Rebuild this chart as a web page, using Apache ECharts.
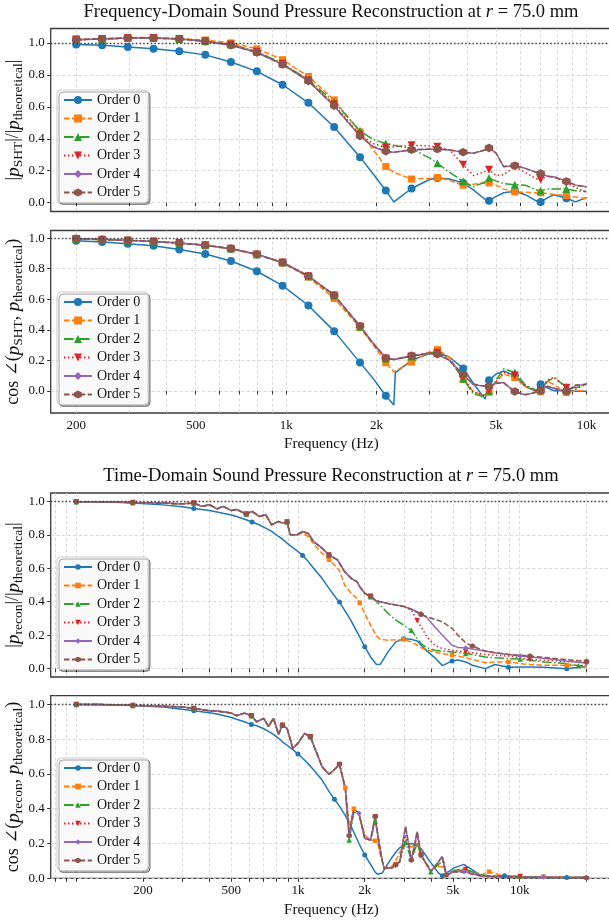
<!DOCTYPE html>
<html><head><meta charset="utf-8">
<script src="https://cdn.jsdelivr.net/npm/echarts@6/dist/echarts.min.js"></script>
<style>html,body{margin:0;padding:0;background:#fff}#c{width:609px;height:920px}</style>
</head><body><div id="c"></div>
<script>
// ---------------- DATA ----------------
const orderNames = ['Order 0','Order 1','Order 2','Order 3','Order 4','Order 5'];
const fdTicks = [200,300,400,500,600,700,800,900,1000,2000,3000,4000,5000,6000,7000,8000,9000,10000];
const tdTicks = [80,90,100,200,300,400,500,600,700,800,900,1000,2000,3000,4000,5000,6000,7000,8000,9000,10000,20000];
const freqLabels = [200,500,1000,2000,5000,10000];
const yTicks = [0,0.2,0.4,0.6,0.8,1.0];

// Frequency-domain panels
const fdFreq = [200,244,297,362,441,538,655,799,973,1186,1445,1762,1950,2147,2283,2310,2616,3000,3188,3500,3886,4200,4600,4736,5000,5300,5772,6250,6800,7034,7400,7800,8572,9200,10000];
const fdMarkers = [200,244,297,362,441,538,655,799,973,1186,1445,1762,2147,2616,3188,3886,4736,5772,7034,8572];

const fdMagO0 = [0.99,0.985,0.975,0.963,0.948,0.925,0.88,0.822,0.738,0.625,0.474,0.285,0.18,0.076,0.005,0.012,0.089,0.145,0.155,0.148,0.124,0.08,0.02,0.012,0.04,0.062,0.072,0.05,0.012,0.004,0.03,0.05,0.028,0.005,0.033];
const fdMagO1 = [1.025,1.025,1.033,1.033,1.027,1.018,1.0,0.963,0.895,0.79,0.643,0.443,0.33,0.227,0.19,0.185,0.148,0.152,0.158,0.14,0.109,0.115,0.123,0.124,0.11,0.085,0.068,0.065,0.063,0.062,0.058,0.052,0.045,0.035,0.025];
const fdMagO2 = [1.02,1.025,1.03,1.03,1.025,1.01,0.99,0.945,0.87,0.77,0.63,0.45,0.395,0.371,0.36,0.358,0.338,0.28,0.247,0.19,0.134,0.1,0.13,0.155,0.135,0.12,0.113,0.11,0.08,0.075,0.085,0.085,0.085,0.075,0.07];
const fdMagO3 = [1.02,1.025,1.03,1.03,1.025,1.01,0.99,0.945,0.87,0.765,0.615,0.425,0.37,0.345,0.35,0.352,0.36,0.355,0.35,0.33,0.237,0.17,0.195,0.206,0.17,0.175,0.225,0.19,0.15,0.144,0.165,0.16,0.125,0.095,0.065];
const fdMagO4 = [1.02,1.025,1.03,1.03,1.025,1.01,0.985,0.94,0.865,0.76,0.605,0.415,0.35,0.32,0.315,0.316,0.33,0.335,0.335,0.33,0.315,0.31,0.33,0.345,0.31,0.225,0.233,0.215,0.19,0.185,0.165,0.162,0.135,0.11,0.1];
const fdMagO5 = [1.02,1.025,1.03,1.03,1.025,1.01,0.985,0.94,0.865,0.762,0.607,0.418,0.35,0.322,0.316,0.317,0.332,0.336,0.336,0.33,0.316,0.31,0.33,0.343,0.31,0.226,0.232,0.215,0.19,0.183,0.165,0.16,0.133,0.11,0.098];

const fdCosO0 = [0.983,0.974,0.963,0.95,0.926,0.896,0.85,0.783,0.689,0.559,0.391,0.185,0.08,-0.032,-0.093,0.119,0.2,0.245,0.25,0.22,0.147,0.05,-0.054,0.069,0.11,0.13,0.1,0.03,-0.005,0.043,0.02,0.0,0.0,-0.002,-0.003];
const fdCosO1 = [0.995,0.99,0.985,0.978,0.968,0.953,0.93,0.893,0.838,0.745,0.605,0.415,0.3,0.184,0.125,0.115,0.188,0.255,0.27,0.22,0.076,-0.005,-0.03,-0.01,0.06,0.11,0.087,0.03,0.0,-0.006,0.065,0.04,-0.01,0.0,0.0];
const fdCosO2 = [0.995,0.99,0.985,0.978,0.968,0.953,0.93,0.893,0.84,0.75,0.625,0.42,0.31,0.212,0.205,0.205,0.225,0.25,0.253,0.2,0.08,-0.02,-0.04,0.0,0.07,0.145,0.12,0.04,0.005,0.01,0.06,0.087,0.025,0.02,0.04];
const fdCosO3 = [0.995,0.99,0.985,0.978,0.968,0.953,0.93,0.893,0.84,0.75,0.625,0.42,0.31,0.212,0.205,0.205,0.225,0.25,0.25,0.2,0.09,-0.01,-0.03,0.0,0.06,0.12,0.1,0.03,0.0,0.0,0.07,0.09,0.02,0.01,0.05];
const fdCosO4 = [0.997,0.992,0.986,0.978,0.968,0.953,0.932,0.895,0.842,0.752,0.628,0.425,0.31,0.216,0.206,0.206,0.232,0.245,0.238,0.2,0.104,0.04,0.03,0.032,0.05,0.054,-0.006,-0.026,-0.01,0.0,0.03,0.015,-0.006,0.035,0.04];
const fdCosO5 = [0.997,0.991,0.985,0.977,0.968,0.953,0.932,0.895,0.84,0.752,0.626,0.425,0.31,0.214,0.205,0.205,0.23,0.245,0.24,0.2,0.105,0.045,0.03,0.03,0.05,0.052,-0.004,-0.025,-0.01,0.0,0.03,0.018,-0.004,0.038,0.045];

// Time-domain magnitude panel
const tdMagFreq = [100,125,150,180,246,300,339,368,399,432,459,501,528,584,621,668,715,760,817,850,893,922,988,1049,1114,1175,1284,1380,1508,1539,1622,1737,1845,1898,2000,2125,2258,2350,2547,2762,2994,3245,3448,3590,3814,4135,4481,4957,5266,5706,6113,6987,7726,8896,10040,11110,12790,16290,18390,20000];
const tdMagO0 = [0.997,0.996,0.994,0.99,0.979,0.968,0.958,0.952,0.945,0.937,0.929,0.918,0.91,0.89,0.877,0.86,0.84,0.82,0.79,0.775,0.75,0.735,0.705,0.677,0.64,0.6,0.54,0.48,0.41,0.398,0.35,0.285,0.22,0.19,0.131,0.07,0.025,0.026,0.1,0.16,0.178,0.175,0.165,0.14,0.106,0.066,0.018,0.046,0.052,0.04,0.02,0.0,0.025,0.008,0.01,0.01,0.008,0.0,0.008,0.012];
const tdMagO1 = [0.998,0.997,0.996,0.993,0.99,0.985,0.99,0.97,0.98,0.955,0.97,0.945,0.952,0.924,0.94,0.91,0.92,0.86,0.88,0.87,0.876,0.8,0.8,0.81,0.79,0.745,0.69,0.651,0.6,0.585,0.5,0.45,0.42,0.394,0.33,0.26,0.195,0.175,0.17,0.172,0.175,0.16,0.14,0.125,0.11,0.1,0.09,0.081,0.075,0.065,0.055,0.035,0.04,0.04,0.03,0.025,0.02,0.02,0.018,0.015];
const tdMagO2 = [0.998,0.997,0.996,0.993,0.99,0.985,0.99,0.97,0.98,0.955,0.97,0.945,0.952,0.924,0.94,0.91,0.92,0.86,0.88,0.87,0.876,0.8,0.8,0.82,0.807,0.76,0.72,0.68,0.65,0.63,0.58,0.54,0.52,0.49,0.45,0.43,0.4,0.38,0.33,0.29,0.26,0.229,0.18,0.15,0.125,0.11,0.105,0.1,0.095,0.09,0.085,0.07,0.065,0.06,0.058,0.05,0.04,0.03,0.018,0.02];
const tdMagO3 = [0.998,0.997,0.996,0.993,0.99,0.985,0.99,0.97,0.98,0.955,0.97,0.945,0.952,0.924,0.94,0.91,0.92,0.86,0.88,0.87,0.876,0.8,0.8,0.82,0.807,0.76,0.72,0.68,0.65,0.63,0.58,0.54,0.52,0.49,0.45,0.432,0.405,0.4,0.39,0.38,0.37,0.35,0.287,0.25,0.19,0.14,0.12,0.11,0.105,0.1,0.095,0.085,0.08,0.075,0.065,0.055,0.05,0.042,0.04,0.035];
const tdMagO4 = [0.998,0.997,0.996,0.993,0.99,0.985,0.99,0.97,0.98,0.955,0.97,0.945,0.952,0.924,0.94,0.91,0.92,0.86,0.88,0.87,0.876,0.8,0.8,0.82,0.807,0.76,0.72,0.68,0.65,0.63,0.58,0.54,0.52,0.49,0.45,0.432,0.405,0.4,0.39,0.38,0.373,0.355,0.34,0.33,0.305,0.25,0.2,0.14,0.127,0.124,0.118,0.105,0.095,0.085,0.075,0.07,0.062,0.045,0.038,0.034];
const tdMagO5 = [0.998,0.997,0.996,0.993,0.99,0.985,0.99,0.97,0.98,0.955,0.97,0.945,0.952,0.924,0.94,0.91,0.92,0.86,0.88,0.87,0.876,0.8,0.8,0.82,0.807,0.76,0.72,0.68,0.65,0.63,0.58,0.54,0.52,0.49,0.45,0.432,0.405,0.4,0.39,0.38,0.372,0.355,0.335,0.323,0.31,0.295,0.28,0.24,0.2,0.155,0.135,0.105,0.095,0.085,0.08,0.075,0.068,0.054,0.048,0.044];
const tdMagMarkO0 = [100,180,339,621,1049,1539,2000,2994,4957,8896,16290];
const tdMagMarkO1 = [100,180,339,584,893,1380,1898,2994,4957,8896,16290];
const tdMagMarkO2 = [100,180,339,584,893,1380,2125,3245,5706,10040,18390];
const tdMagMarkO3 = [100,180,339,584,893,1380,2125,3448,5706,11110,20000];
const tdMagMarkO4 = [100,180,339,584,893,1380,2125,3590,5706,10040,20000];
const tdMagMarkO5 = [100,180,339,584,893,1380,2125,3590,6113,11110,20000];

// Time-domain cosine panel
const tdCosFreq = [100,125,150,180,246,300,339,399,432,501,528,573,616,652,701,736,775,817,851,893,948,1000,1070,1137,1184,1284,1380,1460,1539,1635,1702,1786,1883,2000,2125,2230,2290,2332,2398,2447,2653,2762,2875,3055,3245,3448,3590,3971,4304,4481,4666,5058,5596,5706,6710,7273,8545,10040,12790,16290,20000];
const tdCosO0 = [1.0,0.999,0.997,0.994,0.985,0.972,0.964,0.952,0.945,0.925,0.915,0.9,0.885,0.877,0.86,0.845,0.828,0.805,0.785,0.765,0.74,0.715,0.68,0.645,0.62,0.565,0.5,0.454,0.415,0.36,0.32,0.265,0.2,0.134,0.08,0.035,0.023,0.023,0.03,0.05,0.12,0.15,0.175,0.195,0.2,0.19,0.17,0.09,0.03,0.015,0.03,0.06,0.08,0.078,0.015,0.01,0.015,0.006,0.005,0.004,0.004];
const tdCosO1 = [1.0,0.999,0.998,0.994,0.99,0.985,0.977,0.964,0.962,0.95,0.935,0.95,0.935,0.9,0.92,0.872,0.92,0.828,0.88,0.862,0.747,0.776,0.833,0.814,0.757,0.642,0.598,0.626,0.655,0.52,0.3,0.4,0.37,0.25,0.22,0.216,0.2,0.15,0.1,0.06,0.07,0.1,0.15,0.2,0.18,0.2,0.13,0.05,0.07,0.065,0.03,0.04,0.05,0.05,0.02,0.038,0.012,0.008,0.01,0.008,0.005];
const tdCosO2 = [1.0,0.999,0.998,0.994,0.99,0.985,0.977,0.964,0.962,0.95,0.935,0.95,0.935,0.9,0.92,0.872,0.92,0.828,0.88,0.862,0.747,0.776,0.833,0.814,0.757,0.642,0.598,0.626,0.655,0.517,0.22,0.38,0.37,0.23,0.22,0.33,0.25,0.19,0.1,0.057,0.06,0.077,0.096,0.21,0.105,0.2,0.134,0.038,0.08,0.1,0.019,0.045,0.055,0.058,0.02,0.015,0.015,0.012,0.005,0.005,0.005];
const tdCosO3 = [1.0,0.999,0.998,0.994,0.99,0.985,0.977,0.964,0.962,0.95,0.935,0.95,0.935,0.9,0.92,0.872,0.92,0.828,0.88,0.862,0.747,0.776,0.833,0.814,0.757,0.642,0.598,0.626,0.655,0.517,0.245,0.4,0.374,0.23,0.22,0.354,0.25,0.19,0.1,0.057,0.06,0.077,0.096,0.25,0.105,0.24,0.134,0.038,0.096,0.125,0.019,0.038,0.045,0.05,0.013,0.01,0.01,0.01,0.004,0.004,0.006];
const tdCosO4 = [1.0,0.999,0.998,0.994,0.99,0.985,0.977,0.964,0.962,0.95,0.935,0.95,0.935,0.9,0.92,0.872,0.92,0.828,0.88,0.862,0.747,0.776,0.833,0.814,0.757,0.642,0.598,0.626,0.655,0.517,0.245,0.4,0.374,0.23,0.22,0.354,0.25,0.19,0.1,0.057,0.06,0.077,0.096,0.297,0.105,0.268,0.134,0.038,0.096,0.125,0.019,0.038,0.04,0.04,0.013,0.01,0.006,0.005,0.008,0.004,0.005];
const tdCosO5 = [1.0,0.999,0.998,0.994,0.99,0.985,0.977,0.964,0.962,0.95,0.935,0.95,0.935,0.9,0.92,0.872,0.92,0.828,0.88,0.862,0.747,0.776,0.833,0.814,0.757,0.642,0.598,0.626,0.655,0.517,0.245,0.4,0.374,0.23,0.22,0.354,0.25,0.19,0.1,0.057,0.06,0.077,0.096,0.297,0.105,0.268,0.134,0.038,0.096,0.125,0.019,0.038,0.034,0.034,0.013,0.01,0.006,0.005,0.004,0.004,0.003];
const tdCosMarkO0 = [100,180,339,616,1000,1460,2000,4481,8545,16290];
const tdCosMarkO1 = [100,180,339,616,851,1137,1635,1786,2230,3590,7273,12790];
const tdCosMarkO2 = [100,180,339,616,851,1137,1702,2230,3055,3971,10040];
const tdCosMarkO3 = [100,180,339,616,851,1137,1539,2230,2762,3590,5706,10040];
const tdCosMarkO4 = [100,180,339,616,851,1137,1539,1883,2230,3245,4666,5596,12790];
const tdCosMarkO5 = [100,180,339,616,851,1137,1539,1702,2230,2762,3245,3590,4666,20000];

// ---------------- STYLE / BUILD ----------------
const FONT = '"Liberation Serif", "DejaVu Serif", serif';
const colors = ['#1f77b4','#ff7f0e','#2ca02c','#d62728','#9467bd','#8c564b'];
const dashes = ['solid',[5.5,2.4],[9.6,2.4,1.5,2.4],[1.5,2.5],'solid',[5.5,2.4]];
const symbols = ['circle','rect','triangle','path://M-1,-0.87 L1,-0.87 L0,0.87 Z','diamond',
  'path://M0,-1 L0.866,-0.5 L0.866,0.5 L0,1 L-0.866,0.5 L-0.866,-0.5 Z'];
const bigSizes = [8,7,8,8,8,8.5];
const smallSizes = [5,4.5,5.5,5.5,5.5,5.5];

function mk(freqs, vals, marks) {
  return freqs.map((f, i) => marks.indexOf(f) >= 0 ? [f, vals[i]] : {value: [f, vals[i]], symbol: 'none'});
}
const refLine = {silent: true, symbol: 'none', label: {show: false}, animation: false,
  lineStyle: {type: [1.5, 2.2], color: '#444', width: 1.3}, emphasis: {disabled: true}, data: [{yAxis: 1}]};
function line(k, g, freqs, vals, marks, sizes) {
  const s = {type: 'line', name: orderNames[k], xAxisIndex: g, yAxisIndex: g,
    data: mk(freqs, vals, marks), symbol: symbols[k], symbolSize: sizes[k],
    lineStyle: {color: colors[k], width: 1.5, type: dashes[k]}, itemStyle: {color: colors[k]},
    emphasis: {disabled: true}, animation: false, silent: true};
  if (k === 0) s.markLine = refLine;
  return s;
}
const series = [];
const fdMag = [fdMagO0, fdMagO1, fdMagO2, fdMagO3, fdMagO4, fdMagO5];
const fdCos = [fdCosO0, fdCosO1, fdCosO2, fdCosO3, fdCosO4, fdCosO5];
const tdMag = [tdMagO0, tdMagO1, tdMagO2, tdMagO3, tdMagO4, tdMagO5];
const tdMagMarks = [tdMagMarkO0, tdMagMarkO1, tdMagMarkO2, tdMagMarkO3, tdMagMarkO4, tdMagMarkO5];
const tdCos = [tdCosO0, tdCosO1, tdCosO2, tdCosO3, tdCosO4, tdCosO5];
const tdCosMarks = [tdCosMarkO0, tdCosMarkO1, tdCosMarkO2, tdCosMarkO3, tdCosMarkO4, tdCosMarkO5];
for (let k = 0; k < 6; k++) series.push(line(k, 0, fdFreq, fdMag[k], fdMarkers, bigSizes));
for (let k = 0; k < 6; k++) series.push(line(k, 1, fdFreq, fdCos[k], fdMarkers, bigSizes));
for (let k = 0; k < 6; k++) series.push(line(k, 2, tdMagFreq, tdMag[k], tdMagMarks[k], smallSizes));
for (let k = 0; k < 6; k++) series.push(line(k, 3, tdCosFreq, tdCos[k], tdCosMarks[k], smallSizes));

const gridDefs = [
  {top: 28.5, height: 183}, {top: 230.5, height: 182.5},
  {top: 493, height: 184}, {top: 695.7, height: 182.6}
];
const yRanges = [[-0.055, 1.09], [-0.145, 1.05], [-0.05, 1.05], [0, 1.05]];
const xRanges = [[164.5, 12160], [164.5, 12160], [76.7, 26070], [76.7, 26070]];
const gridStyle = {color: '#d0d0d0', width: 0.8, type: [3.2, 2.4]};
const richName = {
  a: {fontFamily: FONT, fontSize: 18, color: '#111'},
  i: {fontFamily: FONT, fontSize: 19, fontStyle: 'italic', color: '#111'},
  s: {fontFamily: FONT, fontSize: 13.5, color: '#111', padding: [10, 0, 0, 0]}
};
const yNames = [
  '{a||}{i|p}{s|SHT}{a||/|}{i|p}{s|theoretical}{a||}',
  '{a|cos ∠(}{i|p}{s|SHT}{a|, }{i|p}{s|theoretical}{a|)}',
  '{a||}{i|p}{s|recon}{a||/|}{i|p}{s|theoretical}{a||}',
  '{a|cos ∠(}{i|p}{s|recon}{a|, }{i|p}{s|theoretical}{a|)}'
];
const fmtHz = v => v >= 1000 ? (Math.round(v / 1000) + 'k') : String(Math.round(v));

const grid = gridDefs.map(g => ({left: 50.7, right: -3, top: g.top, height: g.height, show: true,
  outerBoundsMode: 'none', containLabel: false,
  borderColor: '#3a3a3a', borderWidth: 1.3, backgroundColor: 'transparent'}));
const xAxis = [0, 1, 2, 3].map(i => ({
  type: 'log', logBase: 10, gridIndex: i, min: xRanges[i][0], max: xRanges[i][1],
  axisLine: {show: false},
  axisTick: {show: true, length: 3.5, customValues: i < 2 ? fdTicks : tdTicks, lineStyle: {color: '#333', width: 1}},
  axisLabel: {show: i === 1 || i === 3, customValues: freqLabels, formatter: fmtHz,
    fontFamily: FONT, fontSize: 13, color: '#111', margin: 6},
  splitLine: {show: true, lineStyle: gridStyle},
  name: (i === 1 || i === 3) ? 'Frequency (Hz)' : '', nameLocation: 'middle', nameGap: 24,
  nameMoveOverlap: false,
  nameTextStyle: {fontFamily: FONT, fontSize: 15, color: '#111'}
}));
const yAxis = [0, 1, 2, 3].map(i => ({
  type: 'value', gridIndex: i, min: yRanges[i][0], max: yRanges[i][1],
  axisLine: {show: false},
  axisTick: {show: true, length: 3.5, customValues: yTicks, lineStyle: {color: '#333', width: 1}},
  axisLabel: {customValues: yTicks, formatter: v => v.toFixed(1), fontFamily: FONT, fontSize: 13, color: '#111', margin: 6},
  splitLine: {show: true, lineStyle: gridStyle},
  name: yNames[i], nameLocation: 'middle', nameRotate: 90, nameGap: 25, nameMoveOverlap: false,
  nameTextStyle: {rich: richName}
}));
const legendTops = [90, 292, 557, 758];
const legend = legendTops.map((t, i) => ({
  data: orderNames, orient: 'vertical', left: 57, top: t, selectedMode: false,
  itemWidth: 28, itemHeight: i < 2 ? 10 : 7, itemGap: 4.5, padding: [3, 8, 3, 6],
  backgroundColor: 'rgba(255,255,255,0.92)', borderColor: '#cccccc', borderWidth: 1, borderRadius: 4,
  shadowColor: 'rgba(0,0,0,0.35)', shadowBlur: 0, shadowOffsetX: 2, shadowOffsetY: 2,
  textStyle: {fontFamily: FONT, fontSize: 14, color: '#111', lineHeight: 14}
}));
const titleStyle = {fontFamily: FONT, fontSize: 18.5, fontWeight: 'normal', color: '#111',
  rich: {i: {fontFamily: FONT, fontSize: 18.5, fontStyle: 'italic', color: '#111'}}};
const title = [
  {text: 'Frequency-Domain Sound Pressure Reconstruction at {i|r} = 75.0 mm', left: 331, top: 3, textAlign: 'center', padding: 0, textStyle: titleStyle},
  {text: 'Time-Domain Sound Pressure Reconstruction at {i|r} = 75.0 mm', left: 331, top: 467, textAlign: 'center', padding: 0, textStyle: titleStyle}
];

const chart = echarts.init(document.getElementById('c'), null, {renderer: 'canvas'});
chart.setOption({animation: false, backgroundColor: '#fff', title, legend, grid, xAxis, yAxis, series});
</script></body></html>
